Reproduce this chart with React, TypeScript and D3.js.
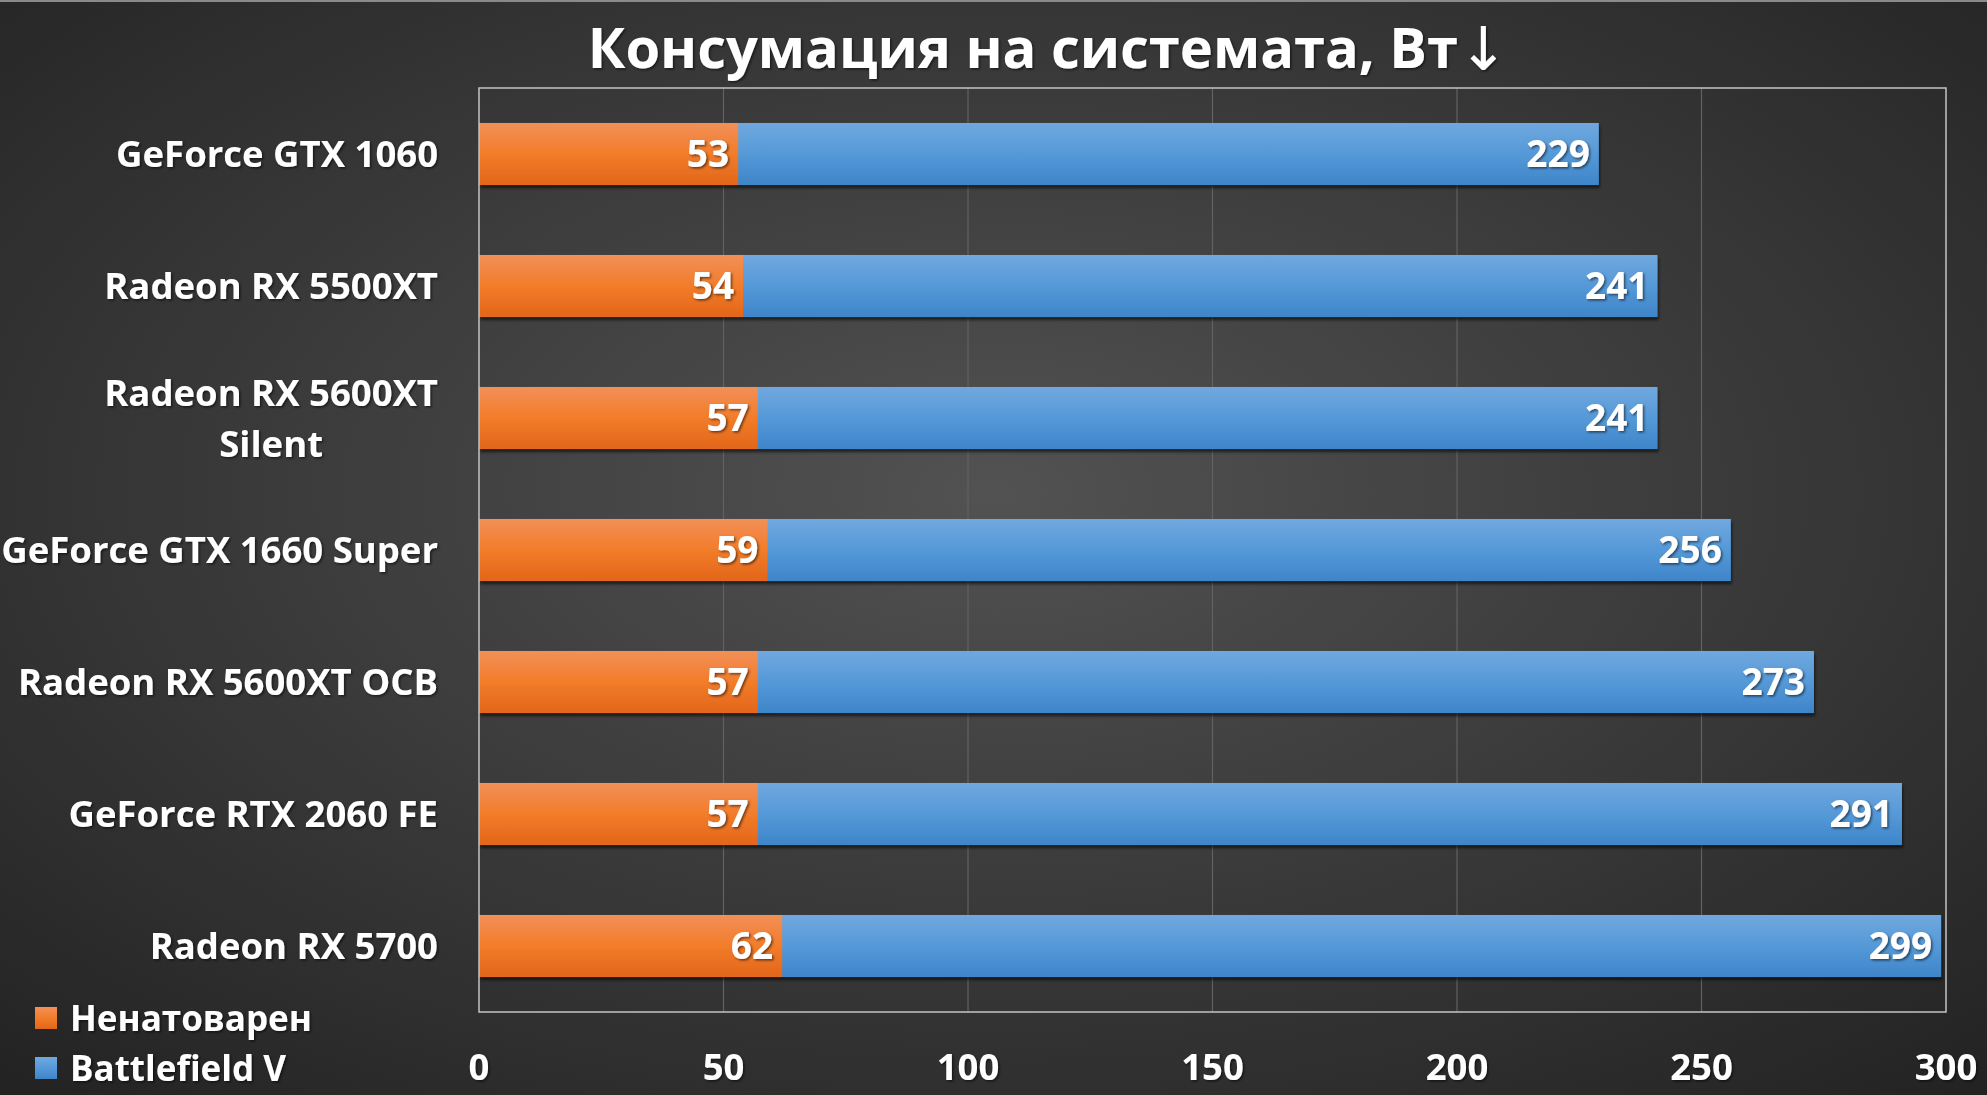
import React, { useRef, useEffect } from 'react';
import * as d3 from 'd3';

// values
const categories = [
  'GeForce GTX 1060',
  'Radeon RX 5500XT',
  'Radeon RX 5600XT\nSilent',
  'GeForce GTX 1660 Super',
  'Radeon RX 5600XT OCB',
  'GeForce RTX 2060 FE',
  'Radeon RX 5700',
];
const idleValues = [53, 54, 57, 59, 57, 57, 62];
const gameValues = [229, 241, 241, 256, 273, 291, 299];
const xTicks = [0, 50, 100, 150, 200, 250, 300];
const seriesNames = ['Ненатоварен', 'Battlefield V'];
const title = 'Консумация на системата, Вт';

const W = 1987;
const H = 1095;
const FONT = "'Open Sans', 'Noto Sans', sans-serif";

function App() {
  const svgRef = useRef<SVGSVGElement>(null);

  useEffect(() => {
    const svg = d3.select(svgRef.current).attr('width', W).attr('height', H);
    svg.selectAll('*').remove();

    const left = 479;
    const right = 1946;
    const top = 88;
    const bottom = 1012;

    const defs = svg.append('defs');
    const bg = defs
      .append('radialGradient')
      .attr('id', 'bg')
      .attr('cx', '50%')
      .attr('cy', '45%')
      .attr('r', '75%');
    bg.append('stop').attr('offset', '0%').attr('stop-color', '#525252');
    bg.append('stop').attr('offset', '100%').attr('stop-color', '#222222');

    const orange = defs.append('linearGradient').attr('id', 'orange').attr('x1', 0).attr('x2', 0).attr('y1', 0).attr('y2', 1);
    orange.append('stop').attr('offset', '0%').attr('stop-color', '#f29058');
    orange.append('stop').attr('offset', '50%').attr('stop-color', '#f27c2a');
    orange.append('stop').attr('offset', '100%').attr('stop-color', '#e2661a');

    const blue = defs.append('linearGradient').attr('id', 'blue').attr('x1', 0).attr('x2', 0).attr('y1', 0).attr('y2', 1);
    blue.append('stop').attr('offset', '0%').attr('stop-color', '#70a8de');
    blue.append('stop').attr('offset', '50%').attr('stop-color', '#5599d8');
    blue.append('stop').attr('offset', '100%').attr('stop-color', '#3e85c9');

    const shadow = defs.append('filter').attr('id', 'shadow').attr('x', '-5%').attr('y', '-20%').attr('width', '110%').attr('height', '150%');
    shadow.append('feDropShadow').attr('dx', 1).attr('dy', 3).attr('stdDeviation', 1.5).attr('flood-color', '#000').attr('flood-opacity', 0.6);

    const tshadow = defs.append('filter').attr('id', 'tshadow');
    tshadow.append('feDropShadow').attr('dx', 1.5).attr('dy', 1.5).attr('stdDeviation', 1).attr('flood-color', '#000').attr('flood-opacity', 0.55);

    svg.append('rect').attr('width', W).attr('height', H).attr('fill', 'url(#bg)');
    svg.append('line').attr('x1', 0).attr('x2', W).attr('y1', 1).attr('y2', 1).attr('stroke', '#8a8a8a').attr('stroke-width', 2);

    //scales
    const xScale = d3.scaleLinear().domain([0, 300]).range([left, right]);
    const yScale = d3
      .scaleBand()
      .domain(categories)
      .range([top, bottom])
      .paddingInner(0.53)
      .paddingOuter(0.265);

    //gridlines
    svg
      .append('g')
      .selectAll('line')
      .data(xTicks.slice(1, -1))
      .join('line')
      .attr('x1', (d) => xScale(d))
      .attr('x2', (d) => xScale(d))
      .attr('y1', top)
      .attr('y2', bottom)
      .attr('stroke', '#626262')
      .attr('stroke-width', 1.2);

    //bars: blue behind, orange on top
    const bars = svg.append('g').attr('filter', 'url(#shadow)');
    bars
      .selectAll('.game')
      .data(gameValues)
      .join('rect')
      .attr('class', 'game')
      .attr('x', xScale(0))
      .attr('y', (d, i) => yScale(categories[i]))
      .attr('width', (d) => xScale(d) - xScale(0))
      .attr('height', yScale.bandwidth())
      .attr('fill', 'url(#blue)');
    bars
      .selectAll('.idle')
      .data(idleValues)
      .join('rect')
      .attr('class', 'idle')
      .attr('x', xScale(0))
      .attr('y', (d, i) => yScale(categories[i]))
      .attr('width', (d) => xScale(d) - xScale(0))
      .attr('height', yScale.bandwidth())
      .attr('fill', 'url(#orange)');

    //plot border
    svg
      .append('rect')
      .attr('x', left)
      .attr('y', top)
      .attr('width', right - left)
      .attr('height', bottom - top)
      .attr('fill', 'none')
      .attr('stroke', '#c4c4c4')
      .attr('stroke-width', 1.5);

    const txt = svg
      .append('g')
      .attr('fill', '#fff')
      .attr('font-family', FONT)
      .attr('font-weight', 700)
      .attr('filter', 'url(#tshadow)');

    //value labels
    const labelSize = 37;
    const addValues = (vals: number[]) =>
      vals.forEach((v, i) => {
        txt
          .append('text')
          .attr('x', xScale(v) - 9)
          .attr('y', (yScale(categories[i]) as number) + yScale.bandwidth() / 2 + 13)
          .attr('text-anchor', 'end')
          .attr('font-size', labelSize)
          .text(v);
      });
    addValues(idleValues);
    addValues(gameValues);

    //category labels, wrapped lines centred in a right-aligned block
    categories.forEach((c) => {
      const lines = c.split('\n');
      const cy = (yScale(c) as number) + yScale.bandwidth() / 2;
      const lh = 51;
      const first = cy - ((lines.length - 1) * lh) / 2 + 13;
      const nodes = lines.map((l, j) =>
        txt
          .append('text')
          .attr('x', 438)
          .attr('y', first + j * lh)
          .attr('text-anchor', 'end')
          .attr('font-size', 36.5)
          .text(l)
      );
      if (lines.length > 1) {
        const widths = nodes.map((n) => (n.node() as SVGTextElement).getComputedTextLength());
        const maxW = Math.max(...widths);
        nodes.forEach((n) => n.attr('x', 438 - maxW / 2).attr('text-anchor', 'middle'));
      }
    });

    //x axis labels
    xTicks.forEach((t) => {
      txt
        .append('text')
        .attr('x', xScale(t))
        .attr('y', 1080)
        .attr('text-anchor', 'middle')
        .attr('font-size', 36.5)
        .text(t);
    });

    //title
    const tt = txt
      .append('text')
      .attr('x', 1048)
      .attr('y', 68)
      .attr('text-anchor', 'middle')
      .attr('font-size', 56);
    tt.append('tspan').text(title);
    tt.append('tspan')
      .attr('font-family', "'DejaVu Sans', sans-serif")
      .attr('font-weight', 400)
      .attr('font-size', 60)
      .attr('dy', 2)
      .text('↓');

    //legend
    const legendColors = ['url(#orange)', 'url(#blue)'];
    seriesNames.forEach((s, i) => {
      const ly = 1018 + i * 50;
      svg
        .append('rect')
        .attr('x', 35)
        .attr('y', ly - 11)
        .attr('width', 22)
        .attr('height', 22)
        .attr('fill', legendColors[i]);
      txt
        .append('text')
        .attr('x', 70)
        .attr('y', ly + 13)
        .attr('font-size', 35)
        .text(s);
    });
  }, []);

  return (
    <div style={{ position: 'absolute', left: 0, top: 0 }}>
      <svg ref={svgRef} style={{ display: 'block' }}></svg>
    </div>
  );
}

export default App;
